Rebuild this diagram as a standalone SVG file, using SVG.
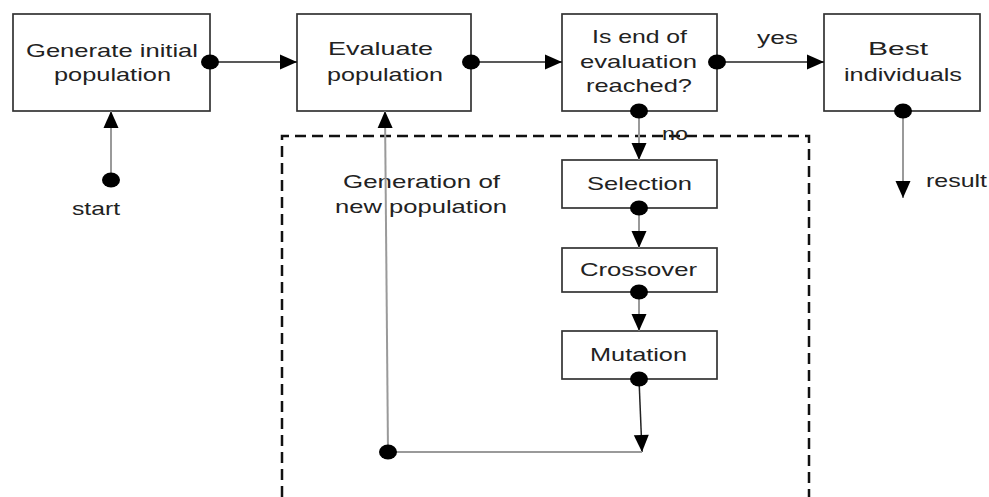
<svg xmlns="http://www.w3.org/2000/svg" width="989" height="497" viewBox="0 0 989 497">
<style>
.box{fill:#fff;stroke:#333;stroke-width:1.7}
.t{font-family:"Liberation Sans",Arial,sans-serif;font-size:19px;fill:#222;text-anchor:middle}
.dk{fill:none;stroke:#222;stroke-width:1.5}
.gr{fill:none;stroke:#9a9a9a;stroke-width:2}
.dash{fill:none;stroke:#111;stroke-width:2.5;stroke-dasharray:11 6}
</style>
<defs>
<marker id="arr" markerUnits="userSpaceOnUse" markerWidth="18" markerHeight="15" refX="17" refY="7.5" orient="auto" overflow="visible">
<path d="M0,0 L17,7.5 L0,15 Z" fill="#000"/>
</marker>
<marker id="dot" markerUnits="userSpaceOnUse" markerWidth="18" markerHeight="16" refX="9" refY="8" orient="0" overflow="visible">
<ellipse cx="9" cy="8" rx="9" ry="7.5" fill="#000"/>
</marker>
</defs>
<rect width="989" height="497" fill="#fff"/>
<path class="dash" d="M282,497 V136 H809 V497"/>
<text class="t" x="675" y="140" textLength="26" lengthAdjust="spacingAndGlyphs">no</text>
<g id="n1"><rect class="box" x="13" y="14" width="197" height="97"/>
<text class="t" x="112" y="57" textLength="172" lengthAdjust="spacingAndGlyphs">Generate initial</text>
<text class="t" x="112.5" y="81" textLength="117" lengthAdjust="spacingAndGlyphs">population</text></g>
<g id="n2"><rect class="box" x="297" y="14" width="174" height="97"/>
<text class="t" x="380.5" y="55" textLength="105" lengthAdjust="spacingAndGlyphs">Evaluate</text>
<text class="t" x="385" y="81" textLength="116" lengthAdjust="spacingAndGlyphs">population</text></g>
<g id="n3"><rect class="box" x="562" y="14" width="155" height="97"/>
<text class="t" x="639.5" y="43" textLength="95" lengthAdjust="spacingAndGlyphs">Is end of</text>
<text class="t" x="638.5" y="68" textLength="117" lengthAdjust="spacingAndGlyphs">evaluation</text>
<text class="t" x="639" y="92" textLength="106" lengthAdjust="spacingAndGlyphs">reached?</text></g>
<g id="n4"><rect class="box" x="824" y="14" width="156" height="97"/>
<text class="t" x="898" y="55" textLength="60" lengthAdjust="spacingAndGlyphs">Best</text>
<text class="t" x="903" y="81" textLength="118" lengthAdjust="spacingAndGlyphs">individuals</text></g>
<g id="n5"><rect class="box" x="562" y="160" width="155" height="48"/>
<text class="t" x="639.5" y="190" textLength="105" lengthAdjust="spacingAndGlyphs">Selection</text></g>
<g id="n6"><rect class="box" x="562" y="248" width="155" height="44"/>
<text class="t" x="638.5" y="276" textLength="117" lengthAdjust="spacingAndGlyphs">Crossover</text></g>
<g id="n7"><rect class="box" x="562" y="331" width="155" height="48"/>
<text class="t" x="638.5" y="361" textLength="97" lengthAdjust="spacingAndGlyphs">Mutation</text></g>
<g id="labels">
<text class="t" x="777.5" y="44" textLength="41" lengthAdjust="spacingAndGlyphs">yes</text>
<text class="t" x="956.5" y="187" textLength="61" lengthAdjust="spacingAndGlyphs">result</text>
<text class="t" x="96" y="215" textLength="48" lengthAdjust="spacingAndGlyphs">start</text>
<text class="t" x="421.5" y="188" textLength="157" lengthAdjust="spacingAndGlyphs">Generation of</text>
<text class="t" x="421" y="213" textLength="172" lengthAdjust="spacingAndGlyphs">new population</text>
</g>
<g id="connectors">
<path class="gr" d="M111,180 V111" marker-start="url(#dot)" marker-end="url(#arr)"/>
<path class="dk" d="M210,62 H297" marker-start="url(#dot)" marker-end="url(#arr)"/>
<path class="dk" d="M471,62 H562" marker-start="url(#dot)" marker-end="url(#arr)"/>
<path class="dk" d="M717,62 H824" marker-start="url(#dot)" marker-end="url(#arr)"/>
<path class="gr" d="M903,111 V198" marker-start="url(#dot)" marker-end="url(#arr)"/>
<path class="gr" d="M639,111 V160" marker-start="url(#dot)" marker-end="url(#arr)"/>
<path class="gr" d="M639,208 V248" marker-start="url(#dot)" marker-end="url(#arr)"/>
<path class="gr" d="M639,292 V331" marker-start="url(#dot)" marker-end="url(#arr)"/>
<path class="dk" d="M639,379 L642,452" marker-start="url(#dot)" marker-end="url(#arr)"/>
<path class="gr" d="M642,452 H388"/>
<path class="gr" d="M388,452 L385,111" marker-start="url(#dot)" marker-end="url(#arr)"/>
</g>
</svg>
